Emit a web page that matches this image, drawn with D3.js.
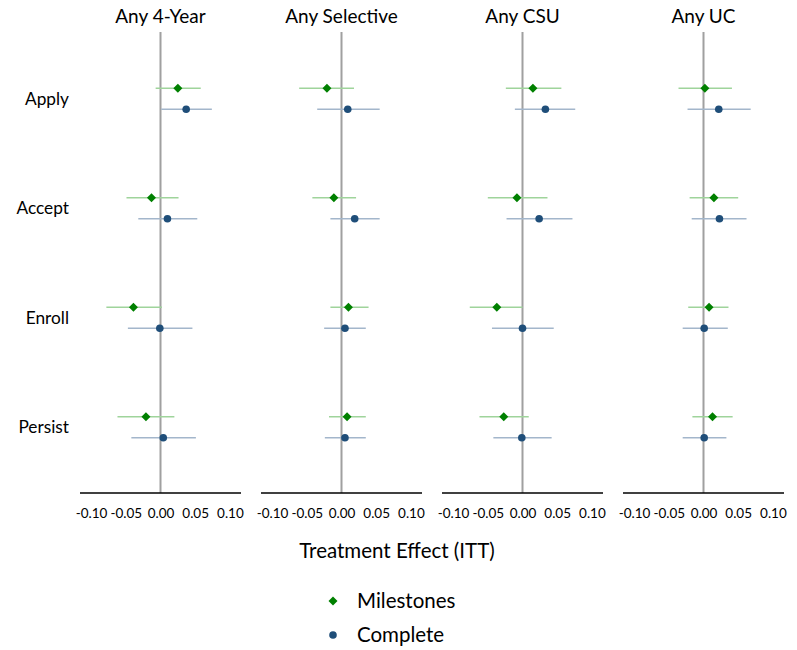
<!DOCTYPE html>
<html>
<head>
<meta charset="utf-8">
<script src="https://cdn.jsdelivr.net/npm/d3@7"></script>
<style>
  body { margin: 0; background: #fff; }
  text { font-family: Lato, "Open Sans", sans-serif; fill: #000; }
</style>
</head>
<body>
<div id="chart"></div>
<script>
// panels and rows
var panels = ["Any 4-Year", "Any Selective", "Any CSU", "Any UC"];
var outcomes = ["Apply", "Accept", "Enroll", "Persist"];
var ticks = [-0.10, -0.05, 0.00, 0.05, 0.10];

// Milestones: [estimate, lower, upper] per panel, per outcome
var milestones = [
  [[0.025, -0.007, 0.058], [-0.013, -0.049, 0.026], [-0.039, -0.078, 0.002], [-0.021, -0.062, 0.020]],
  [[-0.021, -0.061, 0.018], [-0.011, -0.042, 0.021], [0.010, -0.016, 0.039], [0.008, -0.018, 0.035]],
  [[0.015, -0.024, 0.056], [-0.008, -0.050, 0.036], [-0.037, -0.076, 0.000], [-0.027, -0.062, 0.009]],
  [[0.002, -0.036, 0.041], [0.015, -0.020, 0.050], [0.008, -0.022, 0.036], [0.013, -0.016, 0.042]]
];
// Complete
var complete = [
  [[0.037, 0.001, 0.074], [0.010, -0.032, 0.053], [-0.001, -0.047, 0.046], [0.004, -0.042, 0.051]],
  [[0.009, -0.035, 0.055], [0.019, -0.016, 0.055], [0.005, -0.025, 0.035], [0.005, -0.024, 0.035]],
  [[0.033, -0.011, 0.076], [0.024, -0.023, 0.072], [0.000, -0.044, 0.045], [-0.001, -0.042, 0.042]],
  [[0.022, -0.023, 0.068], [0.023, -0.017, 0.062], [0.001, -0.030, 0.035], [0.001, -0.030, 0.033]]
];

var w = 797, h = 650;
var panelW = 161, panelGap = 20, left0 = 80;
var plotTop = 32, plotBottom = 493;

var green = "#008000", greenCI = "#9fd49b";
var blue = "#1f4e79", blueCI = "#a3b6cb";
var diamond = d3.symbol().type(d3.symbolDiamond2).size(52);

var svg = d3.select("#chart").append("svg")
  .attr("width", w)
  .attr("height", h);

var yScale = d3.scaleBand()
  .domain(outcomes)
  .range([44, 482]);

// offsets of the two series inside a row
var offM = -10.5, offC = 10.5;

// row labels
svg.selectAll(".rowlab")
  .data(outcomes)
  .enter()
  .append("text")
  .attr("class", "rowlab")
  .attr("x", 69)
  .attr("y", function(d) { return yScale(d) + yScale.bandwidth() / 2; })
  .attr("dy", "0.35em")
  .attr("text-anchor", "end")
  .style("font-size", "17.3px")
  .text(function(d) { return d; });

var fmt = function(d) { return d3.format(".2f")(d).replace("\u2212", "-"); };

panels.forEach(function(p, i) {
  var x0 = left0 + i * (panelW + panelGap);
  var xScale = d3.scaleLinear()
    .domain([-0.116, 0.116])
    .range([x0, x0 + panelW]);

  var g = svg.append("g");

  // title
  g.append("text")
    .attr("x", xScale(0))
    .attr("y", 23)
    .attr("text-anchor", "middle")
    .style("font-size", "19px")
    .text(p);

  // zero line
  g.append("line")
    .attr("x1", xScale(0)).attr("x2", xScale(0))
    .attr("y1", plotTop).attr("y2", plotBottom)
    .attr("stroke", "#a0a0a0")
    .attr("stroke-width", 2);

  // x axis
  var xAxis = d3.axisBottom(xScale)
    .tickValues(ticks)
    .tickSize(0)
    .tickPadding(15)
    .tickFormat(fmt);
  var ax = g.append("g")
    .attr("transform", "translate(0," + plotBottom + ")")
    .call(xAxis);
  ax.select(".domain")
    .attr("d", "M" + x0 + ",0H" + (x0 + panelW))
    .attr("stroke", "#000")
    .attr("stroke-width", 1.3);
  ax.selectAll("text")
    .style("font-family", "Lato, sans-serif")
    .style("font-size", "13.5px")
    .attr("fill", "#000");

  var mData = outcomes.map(function(o, j) { return { o: o, v: milestones[i][j] }; });
  var cData = outcomes.map(function(o, j) { return { o: o, v: complete[i][j] }; });

  function yc(d, off) { return yScale(d.o) + yScale.bandwidth() / 2 + off; }

  // CI lines
  g.selectAll(".ciM")
    .data(mData)
    .enter()
    .append("line")
    .attr("x1", function(d) { return xScale(d.v[1]); })
    .attr("x2", function(d) { return xScale(d.v[2]); })
    .attr("y1", function(d) { return yc(d, offM); })
    .attr("y2", function(d) { return yc(d, offM); })
    .attr("stroke", greenCI)
    .attr("stroke-width", 1.7);

  g.selectAll(".ciC")
    .data(cData)
    .enter()
    .append("line")
    .attr("x1", function(d) { return xScale(d.v[1]); })
    .attr("x2", function(d) { return xScale(d.v[2]); })
    .attr("y1", function(d) { return yc(d, offC); })
    .attr("y2", function(d) { return yc(d, offC); })
    .attr("stroke", blueCI)
    .attr("stroke-width", 1.7);

  // points
  g.selectAll(".ptM")
    .data(mData)
    .enter()
    .append("path")
    .attr("d", diamond)
    .attr("transform", function(d) {
      return "translate(" + xScale(d.v[0]) + "," + yc(d, offM) + ")";
    })
    .attr("fill", green);

  g.selectAll(".ptC")
    .data(cData)
    .enter()
    .append("circle")
    .attr("cx", function(d) { return xScale(d.v[0]); })
    .attr("cy", function(d) { return yc(d, offC); })
    .attr("r", 3.8)
    .attr("fill", blue);
});

// axis title
svg.append("text")
  .attr("x", 397)
  .attr("y", 551)
  .attr("dy", "0.35em")
  .attr("text-anchor", "middle")
  .style("font-size", "20.5px")
  .text("Treatment Effect (ITT)");

// legend
var legend = svg.append("g");
legend.append("path")
  .attr("d", diamond)
  .attr("transform", "translate(333,601)")
  .attr("fill", green);
legend.append("text")
  .attr("x", 357).attr("y", 601).attr("dy", "0.35em")
  .style("font-size", "20.5px")
  .text("Milestones");
legend.append("circle")
  .attr("cx", 333).attr("cy", 635).attr("r", 3.8)
  .attr("fill", blue);
legend.append("text")
  .attr("x", 357).attr("y", 635).attr("dy", "0.35em")
  .style("font-size", "20.5px")
  .text("Complete");
</script>
</body>
</html>
